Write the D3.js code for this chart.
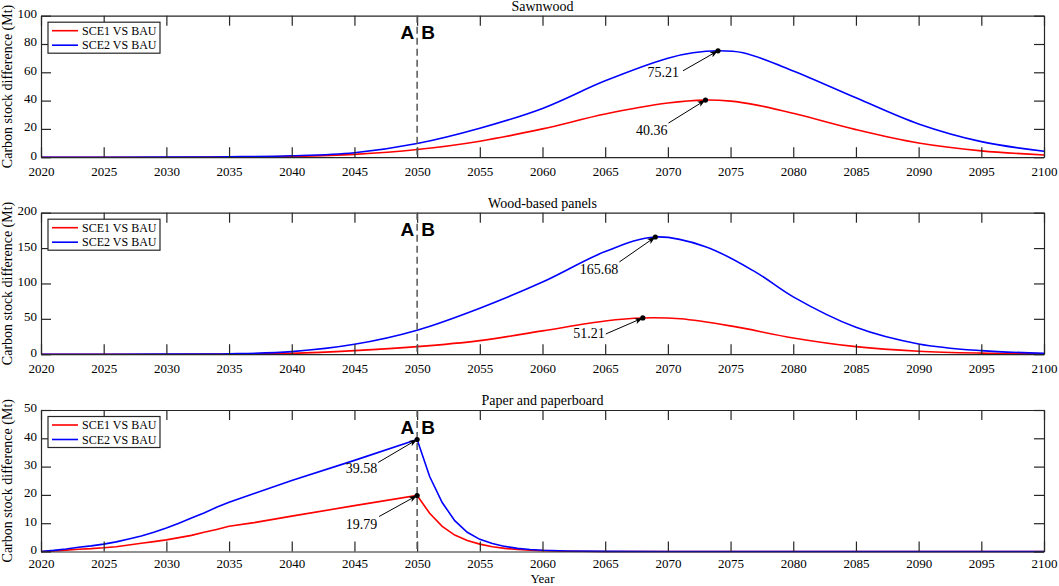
<!DOCTYPE html>
<html>
<head>
<meta charset="utf-8">
<style>
  body { margin: 0; background: #fff; }
  svg { font-family: "Liberation Serif", "Times New Roman", serif; }
  .axis path, .axis line { stroke: #262626; stroke-width: 1.2px; }
  .axis text { font-size: 13px; fill: #000; font-family: "Liberation Serif", serif; }
  .curve { fill: none; stroke-width: 1.6px; }
  .title { font-size: 14px; text-anchor: middle; }
  .note { font-size: 14px; text-anchor: end; }
  .ab { font-family: "Liberation Sans", Arial, sans-serif; font-weight: bold; font-size: 19px; }
</style>
</head>
<body>
<script src="https://cdnjs.cloudflare.com/ajax/libs/d3/7.8.5/d3.min.js"></script>
<script>
  // values
  var xTicks = [2020, 2025, 2030, 2035, 2040, 2045, 2050, 2055, 2060, 2065, 2070, 2075, 2080, 2085, 2090, 2095, 2100];
  var seriesNames = ["SCE1 VS BAU", "SCE2 VS BAU"];
  var titles = ["Sawnwood", "Wood-based panels", "Paper and paperboard"];
  var yMaxes = [100, 200, 50];
  var yStep = [20, 50, 10];

  var sawYears1 = [2020, 2030, 2035, 2040, 2045, 2050, 2055, 2060, 2065, 2070, 2073, 2075, 2077, 2080, 2085, 2090, 2095, 2100];
  var sawSce1 =   [0,    0,    0.1,  0.6,  2.0,  5.4,  11.3, 20,   30.5, 38.3, 40.36, 39.6, 37,  31,   19.5, 10,   4.5,  1.6];
  var sawYears2 = [2020, 2030, 2035, 2040, 2045, 2050, 2055, 2060, 2065, 2070, 2072, 2074, 2076, 2080, 2085, 2090, 2095, 2100];
  var sawSce2 =   [0,    0.05, 0.3,  1.0,  3.2,  9.7,  20.5, 34.5, 54,   70,   73.8, 75.21, 73.8, 61,  42,   23.5, 11,   4.2];

  var wbpYears1 = [2020, 2030, 2035, 2040, 2045, 2050, 2055, 2060, 2065, 2068, 2071, 2075, 2080, 2085, 2090, 2095, 2100];
  var wbpSce1 =   [0,    0,    0.3,  1.2,  5,    10.7, 19.2, 33,   47,   51.21, 50,  40,   23,   10.7, 4.2,  1.5,  0.5];
  var wbpYears2 = [2020, 2030, 2035, 2040, 2045, 2050, 2055, 2060, 2065, 2069, 2073, 2077, 2080, 2085, 2090, 2095, 2100];
  var wbpSce2 =   [0,    0.1,  0.6,  3.7,  14,   33.9, 65,   102,  145,  165.68, 152, 116, 81,  38,   14.5, 5,    1.4];

  var ppYears = [2020, 2021, 2022, 2023, 2024, 2025, 2026, 2027, 2028, 2029, 2030, 2031, 2032, 2033, 2034, 2035, 2037, 2040, 2045, 2050,
                 2051, 2052, 2053, 2054, 2055, 2056, 2057, 2058, 2059, 2060, 2062, 2065, 2070, 2100];
  var ppSce1 =  [0,    0.2,  0.5,  0.8,  1.0,  1.3,  1.7,  2.3,  2.9,  3.5,  4.1,  4.9,  5.7,  6.8,  7.8,  8.9,  10.2, 12.5, 16.2, 19.79,
                 13.5, 8.9,  5.8,  3.9,  2.6,  1.7,  1.1,  0.7,  0.45, 0.3,  0.1,  0.02, 0,    0];
  var ppSce2 =  [0,    0.4,  0.9,  1.5,  2.0,  2.6,  3.4,  4.4,  5.5,  6.8,  8.3,  10,   11.8, 13.6, 15.6, 17.4, 20.5, 25.1, 32.2, 39.58,
                 26.5, 17.3, 10.9, 6.8,  4.3,  2.8,  1.8,  1.1,  0.7,  0.45, 0.2,  0.05, 0,    0];

  // annotated peaks: [panel, series, year, value]
  var peaks = [
    [0, 0, 2073, 40.36], [0, 1, 2074, 75.21],
    [1, 0, 2068, 51.21], [1, 1, 2069, 165.68],
    [2, 0, 2050, 19.79], [2, 1, 2050, 39.58]
  ];
  var splitYear = 2050;

  var panels = [
    { s: [[sawYears1, sawSce1], [sawYears2, sawSce2]], smooth: true },
    { s: [[wbpYears1, wbpSce1], [wbpYears2, wbpSce2]], smooth: true },
    { s: [[ppYears, ppSce1], [ppYears, ppSce2]], smooth: false }
  ];
  var colors = ["#ff0000", "#0000ff"];
  // label offsets from the peak point (text end, arrow tail)
  var noteOff = [
    [[-38, 35, -37, 23], [-39, 26, -35, 20]],
    [[-38, 20, -37, 16], [-37, 37, -36, 25]],
    [[-40, 34, -38, 21], [-40, 34, -39, 23]]
  ];

  var W = 1059, H = 586;
  var left = 41, right = 1044, ph = 141.5;
  var tops = [15.7, 212.7, 410];

  var svg = d3.select("body").append("svg").attr("width", W).attr("height", H);

  var defs = svg.append("defs");
  defs.append("marker")
      .attr("id", "arrow")
      .attr("markerUnits", "userSpaceOnUse")
      .attr("markerWidth", 9).attr("markerHeight", 7)
      .attr("refX", 8).attr("refY", 3.5)
      .attr("orient", "auto")
    .append("path")
      .attr("d", "M0,0.5L8,3.5L0,6.5L2,3.5Z")
      .attr("fill", "#000");

  var x = d3.scaleLinear().domain([2020, 2100]).range([0, right - left]);

  panels.forEach(function(p, i) {
    var y = d3.scaleLinear().domain([0, yMaxes[i]]).range([ph, 0]);
    var yTicks = d3.range(0, yMaxes[i] + 1e-9, yStep[i]);
    var g = svg.append("g").attr("transform", "translate(" + left + "," + tops[i] + ")");

    // curves
    var line = d3.line()
        .x(function(d) { return x(d[0]); })
        .y(function(d) { return y(Math.max(0, d[1])); })
        .curve(p.smooth ? d3.curveCatmullRom.alpha(0.5) : d3.curveLinear);
    p.s.forEach(function(s, k) {
      var pts = s[0].map(function(yr, j) { return [yr, s[1][j]]; });
      g.append("path").attr("class", "curve")
        .attr("stroke", colors[k])
        .attr("d", line(pts));
    });

    // axes box
    g.append("g").attr("class", "axis").attr("transform", "translate(0," + ph + ")")
      .call(d3.axisBottom(x).tickValues(xTicks).tickFormat(d3.format("d")).tickSize(-10).tickSizeOuter(0)
        .tickPadding(i === 2 ? 7.5 : 9.5));
    g.append("g").attr("class", "axis")
      .call(d3.axisTop(x).tickValues(xTicks).tickFormat("").tickSize(-10).tickSizeOuter(0));
    g.append("g").attr("class", "axis")
      .call(d3.axisLeft(y).tickValues(yTicks).tickFormat(d3.format("d")).tickSize(-10).tickSizeOuter(0).tickPadding(4))
      .selectAll("text").attr("dy", "0.15em");
    g.append("g").attr("class", "axis").attr("transform", "translate(" + (right - left) + ",0)")
      .call(d3.axisRight(y).tickValues(yTicks).tickFormat("").tickSize(-10).tickSizeOuter(0));

    // split line
    g.append("line")
      .attr("x1", x(splitYear)).attr("x2", x(splitYear))
      .attr("y1", 0).attr("y2", ph)
      .attr("stroke", "#555").attr("stroke-width", 1.5)
      .attr("stroke-dasharray", "7,4");
    g.append("text").attr("class", "ab").attr("text-anchor", "end")
      .attr("x", x(splitYear) - 3).attr("y", 23.5).text("A");
    g.append("text").attr("class", "ab")
      .attr("x", x(splitYear) + 4).attr("y", 23.5).text("B");

    // title
    g.append("text").attr("class", "title")
      .attr("x", (right - left) / 2).attr("y", -5).text(titles[i]);

    // y label
    g.append("text")
      .attr("transform", "translate(" + (12 - left) + "," + (ph / 2) + ") rotate(-90)")
      .attr("text-anchor", "middle")
      .style("font-size", "14px")
      .text("Carbon stock difference (Mt)");

    // legend
    var lg = g.append("g").attr("transform", "translate(7,6.5)");
    lg.append("rect").attr("width", 112).attr("height", 31)
      .attr("fill", "#fff").attr("stroke", "#262626").attr("stroke-width", 1.2);
    seriesNames.forEach(function(n, k) {
      var yy = 8.5 + k * 14.5;
      lg.append("line").attr("x1", 4).attr("x2", 30).attr("y1", yy).attr("y2", yy)
        .attr("stroke", colors[k]).attr("stroke-width", 1.6);
      lg.append("text").attr("x", 34).attr("y", yy + 4).style("font-size", "12px").text(n);
    });

    // peak annotations
    peaks.filter(function(pk) { return pk[0] === i; }).forEach(function(pk) {
      var px = x(pk[2]), py = y(pk[3]);
      var o = noteOff[i][pk[1]];
      g.append("line")
        .attr("x1", px + o[2]).attr("y1", py + o[3])
        .attr("x2", px).attr("y2", py)
        .attr("stroke", "#000").attr("stroke-width", 1)
        .attr("marker-end", "url(#arrow)");
      g.append("circle").attr("cx", px).attr("cy", py).attr("r", 2.6).attr("fill", "#000");
      g.append("text").attr("class", "note")
        .attr("x", px + o[0]).attr("y", py + o[1])
        .text(d3.format(".2f")(pk[3]));
    });
  });

  // x label
  svg.append("text")
    .attr("x", (left + right) / 2).attr("y", 582.5)
    .attr("text-anchor", "middle")
    .style("font-size", "13px")
    .text("Year");
</script>
</body>
</html>
